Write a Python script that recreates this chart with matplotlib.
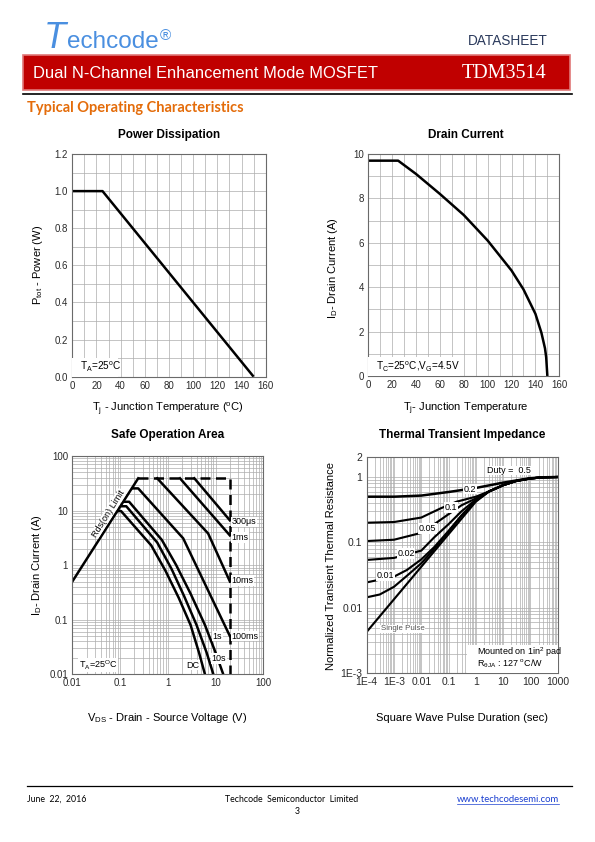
import numpy as np
import matplotlib
matplotlib.use("Agg")
import matplotlib.pyplot as plt
from matplotlib.patches import Rectangle
from matplotlib.lines import Line2D
from matplotlib.ticker import FixedLocator, FixedFormatter, MultipleLocator, LogLocator, NullFormatter

# ---------------- data ----------------
pd_temp = [0, 25, 150]
pd_power = [1.0, 1.0, 0.0]

dc_temp = [0, 25, 40, 60, 80, 100, 120, 130, 140, 145, 148, 149, 150]
dc_current = [9.7, 9.7, 9.1, 8.2, 7.25, 6.1, 4.75, 3.9, 2.8, 1.95, 1.25, 0.85, 0.0]

soa_rds_v = [0.01, 0.24]
soa_rds_i = [0.5, 39]
soa_lim_v = [0.24, 20, 20]
soa_lim_i = [39, 39, 0.01]
soa_300us_v = [3.6, 20]
soa_300us_i = [39, 6.6]
soa_1ms_v = [1.8, 20]
soa_1ms_i = [39, 3.5]
soa_10ms_v = [0.6, 7.0, 20]
soa_10ms_i = [39, 3.8, 0.5]
soa_100ms_v = [0.18, 0.24, 2.1, 20]
soa_100ms_i = [25.5, 25.5, 3.1, 0.05]
soa_1s_v = [0.125, 0.155, 0.75, 1.5, 3.0, 6.0, 10.0, 14.5]
soa_1s_i = [14.5, 14.5, 2.9, 1.0, 0.3, 0.08, 0.025, 0.01]
soa_10s_v = [0.11, 0.135, 0.6, 1.2, 2.2, 4.0, 6.5, 9.0]
soa_10s_i = [12, 12, 2.6, 0.85, 0.27, 0.08, 0.025, 0.01]
soa_dc_v = [0.092, 0.105, 0.45, 0.9, 1.7, 3.0, 4.5, 6.0]
soa_dc_i = [9.8, 9.8, 2.3, 0.78, 0.25, 0.08, 0.025, 0.01]
soa_xticks = [0.01, 0.1, 1, 10, 100]
soa_xlabels = ["0.01", "0.1", "1", "10", "100"]
soa_yticks = [0.01, 0.1, 1, 10, 100]
soa_ylabels = ["0.01", "0.1", "1", "10", "100"]

tt_tail_t = [3, 10, 30, 100, 300, 1000]
tt_tail_z = [0.6, 0.75, 0.87, 0.95, 0.99, 1.0]
tt_d05_t = [1e-4, 1e-3, 0.01, 0.1, 1, 10, 100, 300, 1000]
tt_d05_z = [0.5, 0.5, 0.52, 0.59, 0.68, 0.82, 0.96, 0.99, 1.0]
tt_d02_t = [1e-4, 1e-3, 0.01, 0.05, 0.2, 1]
tt_d02_z = [0.2, 0.205, 0.24, 0.33, 0.42, 0.5]
tt_d01_t = [1e-4, 1e-3, 0.01, 0.03, 0.1, 0.3, 1]
tt_d01_z = [0.105, 0.11, 0.14, 0.19, 0.27, 0.37, 0.47]
tt_d005_t = [1e-4, 1e-3, 0.01, 0.03, 0.1, 0.3, 1]
tt_d005_z = [0.054, 0.058, 0.075, 0.12, 0.19, 0.3, 0.45]
tt_d002_t = [1e-4, 1e-3, 3e-3, 0.01, 0.03, 0.1, 0.3, 1]
tt_d002_z = [0.0245, 0.03, 0.038, 0.055, 0.085, 0.15, 0.26, 0.44]
tt_d001_t = [1e-4, 3e-4, 1e-3, 3e-3, 0.01, 0.03, 0.1, 0.3, 1]
tt_d001_z = [0.0145, 0.016, 0.021, 0.031, 0.048, 0.08, 0.145, 0.255, 0.43]
tt_single_t = [1e-4, 1]
tt_single_z = [0.0043, 0.42]
tt_xticks = [1e-4, 1e-3, 0.01, 0.1, 1, 10, 100, 1000]
tt_xlabels = ["1E-4", "1E-3", "0.01", "0.1", "1", "10", "100", "1000"]
tt_yticks = [1e-3, 0.01, 0.1, 1, 2]
tt_ylabels = ["1E-3", "0.01", "0.1", "1", "2"]

# ---------------- figure ----------------
W, H = 595, 842
plt.rcParams['font.family'] = ['Liberation Sans', 'DejaVu Sans']
plt.rcParams['mathtext.fontset'] = 'custom'
plt.rcParams['mathtext.rm'] = 'Liberation Sans'
plt.rcParams['mathtext.it'] = 'Liberation Sans'
plt.rcParams['mathtext.bf'] = 'Liberation Sans:bold'
fig = plt.figure(figsize=(W / 100, H / 100), dpi=100)
fig.patch.set_facecolor('white')


def fx(x):
    return x / W


def fy(y):
    return 1 - y / H


def ftext(x, y, s, **kw):
    kw.setdefault('va', 'center')
    return fig.text(fx(x), fy(y), s, **kw)


def axes_px(l, t, r, b):
    return fig.add_axes([l / W, 1 - b / H, (r - l) / W, (b - t) / H])


def hline(x0, x1, y, **kw):
    fig.add_artist(Line2D([fx(x0), fx(x1)], [fy(y), fy(y)], transform=fig.transFigure, **kw))


# ---------------- header ----------------
logo_c = '#4a8fe0'
ftext(44, 48, "T", fontsize=26, style='italic', color=logo_c, va='baseline')
ftext(67, 48, "echcode", fontsize=17.5, color=logo_c, va='baseline')
ftext(160, 40, "\u00ae", fontsize=11, color=logo_c, va='baseline')
ftext(548, 41, "DATASHEET", fontsize=9.8, color='#2b3a5c', ha='right')

fig.patches.append(Rectangle((fx(23), fy(90)), (570 - 23) / W, 35 / H, transform=fig.transFigure,
                             facecolor='#c00000', edgecolor='#e07878', lw=1.2))
ftext(33, 74, "Dual N-Channel Enhancement Mode MOSFET", fontsize=11.9, color='white')
ftext(462, 74, "TDM3514", fontsize=14.5, color='white', family=['Liberation Serif', 'DejaVu Serif'])
hline(23, 572, 93.5, color='black', lw=1.2)
ftext(27, 108, "Typical Operating Characteristics", fontsize=10.5, fontweight='bold', color='#e46c0a',
      family=['Lato', 'DejaVu Sans'])

# ---------------- footer ----------------
hline(27, 572, 786, color='black', lw=0.9)
ffam = ['Lato', 'DejaVu Sans']
ftext(27, 799, "June  22,  2016", fontsize=6.3, family=ffam)
ftext(292, 799, "Techcode  Semiconductor  Limited", fontsize=6.3, ha='center', family=ffam)
ftext(297, 811, "3", fontsize=6.3, ha='center', family=ffam)
url = ftext(559, 799, "www.techcodesemi.com", fontsize=6.8, ha='right', color='#1a3fd0', family=ffam)

GRID = '#adadad'
SPINE = '#6a6a6a'
TICKC = '#2a2a2a'
LW = 1.8
LAB = 8
TTL = 8.5
TICK = 7


def style_ax(ax):
    for s in ax.spines.values():
        s.set_color(SPINE)
        s.set_linewidth(0.8)
    ax.tick_params(which='both', length=0, labelsize=TICK, colors=TICKC, pad=3)
    ax.grid(True, which='both', color=GRID, lw=0.5)
    ax.set_axisbelow(True)


box = dict(facecolor='white', edgecolor='none', pad=0.5)

# ---------------- Power Dissipation ----------------
ax1 = axes_px(72.3, 154, 265.7, 376.7)
ax1.plot(pd_temp, pd_power, color='black', lw=LW, solid_capstyle='butt')
ax1.set_xlim(0, 160)
ax1.set_ylim(0, 1.2)
ax1.xaxis.set_major_locator(MultipleLocator(20))
ax1.xaxis.set_minor_locator(MultipleLocator(10))
ax1.yaxis.set_major_locator(MultipleLocator(0.2))
ax1.yaxis.set_minor_locator(MultipleLocator(0.1))
ax1.yaxis.set_major_formatter(matplotlib.ticker.FormatStrFormatter('%.1f'))
style_ax(ax1)
ax1.add_patch(Rectangle((0, 0), 0.235, 0.085, transform=ax1.transAxes, fc='white', ec='none', zorder=3))
ax1.text(0.04, 0.045, r"T$_\mathregular{A}$=25$^\mathregular{o}$C", transform=ax1.transAxes,
         fontsize=7.2, va='center', zorder=4)
ftext(169, 135, "Power Dissipation", fontsize=TTL, fontweight='bold', ha='center')
ftext(38, 265, r"P$_\mathregular{tot}$ - Power (W)", fontsize=LAB, rotation=90, ha='center')
ftext(168, 409, r"T$_\mathregular{j}$ - Junction Temperature ($^\mathregular{o}$C)", fontsize=LAB, ha='center')

# ---------------- Drain Current ----------------
ax2 = axes_px(368.3, 154, 559.3, 376)
ax2.plot(dc_temp, dc_current, color='black', lw=LW, solid_capstyle='butt')
ax2.set_xlim(0, 160)
ax2.set_ylim(0, 10)
ax2.xaxis.set_major_locator(MultipleLocator(20))
ax2.xaxis.set_minor_locator(MultipleLocator(10))
ax2.yaxis.set_major_locator(MultipleLocator(2))
ax2.yaxis.set_minor_locator(MultipleLocator(1))
style_ax(ax2)
ax2.add_patch(Rectangle((0, 0), 0.48, 0.085, transform=ax2.transAxes, fc='white', ec='none', zorder=3))
ax2.text(0.04, 0.045, r"T$_\mathregular{C}$=25$^\mathregular{o}$C,V$_\mathregular{G}$=4.5V",
         transform=ax2.transAxes, fontsize=7.2, va='center', zorder=4)
ftext(466, 135, "Drain Current", fontsize=TTL, fontweight='bold', ha='center')
ftext(333, 268, r"I$_\mathregular{D}$- Drain Current (A)", fontsize=LAB, rotation=90, ha='center')
ftext(466, 409, r"T$_\mathregular{j}$- Junction Temperature", fontsize=LAB, ha='center')

# ---------------- Safe Operation Area ----------------
ax3 = axes_px(72.3, 456, 263.3, 674.3)
ax3.set_xscale('log')
ax3.set_yscale('log')
ax3.plot(soa_rds_v, soa_rds_i, color='black', lw=LW)
ax3.plot(soa_lim_v, soa_lim_i, color='black', lw=LW, dashes=(4, 2.2))
for v, i in [(soa_300us_v, soa_300us_i), (soa_1ms_v, soa_1ms_i), (soa_10ms_v, soa_10ms_i),
             (soa_100ms_v, soa_100ms_i), (soa_1s_v, soa_1s_i), (soa_10s_v, soa_10s_i),
             (soa_dc_v, soa_dc_i)]:
    ax3.plot(v, i, color='black', lw=LW, solid_joinstyle='round')
ax3.set_xlim(0.01, 100)
ax3.set_ylim(0.01, 100)
ax3.xaxis.set_major_locator(FixedLocator(soa_xticks))
ax3.xaxis.set_major_formatter(FixedFormatter(soa_xlabels))
ax3.yaxis.set_major_locator(FixedLocator(soa_yticks))
ax3.yaxis.set_major_formatter(FixedFormatter(soa_ylabels))
ax3.xaxis.set_minor_locator(LogLocator(base=10, subs=np.arange(2, 10)))
ax3.yaxis.set_minor_locator(LogLocator(base=10, subs=np.arange(2, 10)))
ax3.xaxis.set_minor_formatter(NullFormatter())
ax3.yaxis.set_minor_formatter(NullFormatter())
style_ax(ax3)
lab_kw = dict(fontsize=6.5, va='center', ha='left', bbox=box, zorder=5)
ax3.text(21.5, 6.2, "300\u03bcs", **lab_kw)
ax3.text(21.5, 3.2, "1ms", **lab_kw)
ax3.text(21.5, 0.52, "10ms", **lab_kw)
ax3.text(21.5, 0.05, "100ms", **lab_kw)
ax3.text(10.9, 0.05, "1s", fontsize=6.5, va='center', ha='center', bbox=box, zorder=5)
ax3.text(11.8, 0.0196, "10s", fontsize=6.5, va='center', ha='center', bbox=box, zorder=5)
ax3.text(3.3, 0.0148, "DC", fontsize=6.5, va='center', ha='center', bbox=box, zorder=5)
ax3.text(0.0135, 0.0148, r"T$_\mathregular{A}$=25$^\mathregular{O}$C", fontsize=6.5, va='center',
         ha='left', bbox=box, zorder=5)
ax3.text(0.057, 8.9, "Rds(on) Limit", fontsize=6.5, va='center', ha='center', rotation=58,
         bbox=dict(facecolor='white', edgecolor='none', pad=0.2), zorder=5)
ftext(168, 435, "Safe Operation Area", fontsize=TTL, fontweight='bold', ha='center')
ftext(37, 565, r"I$_\mathregular{D}$- Drain Current (A)", fontsize=LAB, rotation=90, ha='center')
ftext(167, 718, r"V$_\mathregular{DS}$ - Drain - Source Voltage (V)", fontsize=LAB, ha='center')

# ---------------- Thermal Transient Impedance ----------------
ax4 = axes_px(366.7, 457.3, 557.7, 673.3)
ax4.set_xscale('log')
ax4.set_yscale('log')
ax4.plot(tt_d05_t, tt_d05_z, color='black', lw=LW)
for t, z in [(tt_d02_t, tt_d02_z), (tt_d01_t, tt_d01_z), (tt_d005_t, tt_d005_z),
             (tt_d002_t, tt_d002_z), (tt_d001_t, tt_d001_z), (tt_single_t, tt_single_z)]:
    ax4.plot(list(t) + tt_tail_t, list(z) + tt_tail_z, color='black', lw=LW * 0.85)
ax4.set_xlim(1e-4, 1000)
ax4.set_ylim(1e-3, 2)
ax4.xaxis.set_major_locator(FixedLocator(tt_xticks))
ax4.xaxis.set_major_formatter(FixedFormatter(tt_xlabels))
ax4.yaxis.set_major_locator(FixedLocator(tt_yticks))
ax4.yaxis.set_major_formatter(FixedFormatter(tt_ylabels))
ax4.xaxis.set_minor_locator(LogLocator(base=10, subs=np.arange(2, 10), numticks=20))
ax4.yaxis.set_minor_locator(LogLocator(base=10, subs=np.arange(2, 10)))
ax4.xaxis.set_minor_formatter(NullFormatter())
ax4.yaxis.set_minor_formatter(NullFormatter())
style_ax(ax4)
ax4.tick_params(axis='both', labelsize=7.5)
tl = dict(fontsize=6.5, va='center', ha='center', bbox=box, zorder=5)
ax4.text(16.4, 1.25, "Duty =  0.5", fontsize=6.5, va='center', ha='center',
         bbox=dict(facecolor='white', edgecolor='none', pad=0.2), zorder=5)
ax4.text(0.61, 0.65, "0.2", **tl)
ax4.text(0.12, 0.344, "0.1", **tl)
ax4.text(0.0172, 0.164, "0.05", **tl)
ax4.text(0.00275, 0.068, "0.02", **tl)
ax4.text(4.7e-4, 0.031, "0.01", **tl)
ax4.text(0.0021, 0.0048, "Single Pulse", fontsize=5.7, va='center', ha='center', color='#555555',
         bbox=box, zorder=5)
ax4.add_patch(Rectangle((0.525, 0.0), 0.475, 0.13, transform=ax4.transAxes, fc='white', ec='none', zorder=4))
ax4.text(0.575, 0.098, r"Mounted on 1in$^\mathregular{2}$ pad", transform=ax4.transAxes,
         fontsize=6.5, va='center', zorder=5)
ax4.text(0.575, 0.043, r"R$_{\theta\mathregular{JA}}$ : 127 $^\mathregular{o}$C/W", transform=ax4.transAxes,
         fontsize=6.5, va='center', zorder=5)
ftext(462, 435, "Thermal Transient Impedance", fontsize=TTL, fontweight='bold', ha='center')
ftext(331, 566, "Normalized Transient Thermal Resistance", fontsize=LAB, rotation=90, ha='center')
ftext(462, 718, "Square Wave Pulse Duration (sec)", fontsize=LAB, ha='center')

# underline for the URL, matched to the text extent
fig.canvas.draw()
bb = url.get_window_extent()
x0, x1 = bb.x0, bb.x1
yline = bb.y0 - 0.5
fig.add_artist(Line2D([x0 / W, x1 / W], [yline / H, yline / H], transform=fig.transFigure,
                      color='#1a3fd0', lw=0.5))

fig.savefig("out.png", dpi=100, facecolor='white')
